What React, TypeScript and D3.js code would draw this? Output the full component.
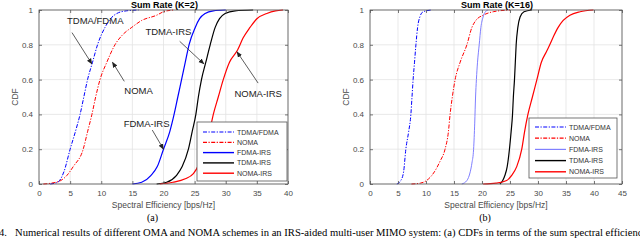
import React, { useEffect, useRef } from "react";
import * as d3 from "d3";

// ---- data: [spectral efficiency, CDF] ----
const k2TdmaFdma = [[1.8,0],[3,0.01],[4,0.07],[5,0.2],[6,0.32],[6.6,0.4],[7.2,0.5],[7.8,0.6],[8.6,0.7],[9.4,0.8],[10.6,0.9],[11.5,0.95],[12.5,0.98],[14,0.995],[16,1]];
const k2Noma = [[0.7,0],[2,0.005],[3.5,0.02],[4.5,0.05],[5.5,0.1],[7.1,0.2],[7.8,0.3],[8.5,0.4],[9.1,0.5],[9.8,0.6],[10.9,0.7],[12.2,0.8],[13.5,0.86],[14.9,0.9],[16.5,0.94],[18.9,0.97],[20,0.99],[21.6,1]];
const k2FdmaIrs = [[15,0],[16.5,0.01],[18,0.05],[19,0.1],[20,0.2],[21,0.3],[21.7,0.4],[22.3,0.5],[22.9,0.6],[23.5,0.7],[24.1,0.8],[25.1,0.9],[25.8,0.95],[26.7,0.98],[28,0.995],[30,1]];
const k2TdmaIrs = [[18.9,0],[20.5,0.01],[22.1,0.05],[23,0.1],[24,0.2],[24.6,0.3],[25.2,0.4],[25.6,0.5],[26.1,0.6],[26.8,0.7],[27.5,0.8],[28.3,0.9],[29,0.95],[29.9,0.98],[31.5,0.995],[34.4,1]];
const k2NomaIrs = [[19.4,0],[21.5,0.01],[23.5,0.03],[24.8,0.06],[25.8,0.12],[26.7,0.2],[27.4,0.3],[28,0.4],[28.8,0.5],[29.6,0.6],[30.6,0.7],[31.9,0.77],[32.8,0.84],[33.9,0.9],[35,0.95],[36.6,0.98],[38,0.995],[39.2,1]];

const k16TdmaFdma = [[4.8,0],[5.5,0.02],[6,0.07],[6.4,0.2],[6.9,0.3],[7.3,0.4],[7.5,0.5],[7.7,0.6],[7.95,0.7],[8.2,0.8],[8.5,0.9],[8.9,0.96],[9.5,0.99],[11,1]];
const k16Noma = [[7.4,0],[9,0.005],[10.1,0.02],[11.5,0.07],[12.5,0.13],[13.4,0.2],[14,0.3],[14.3,0.4],[14.7,0.5],[15.2,0.6],[16.1,0.7],[17.3,0.8],[18.2,0.9],[18.9,0.94],[20.2,0.97],[22,0.99],[25,1]];
const k16FdmaIrs = [[16.4,0],[17.3,0.02],[17.9,0.07],[18.2,0.12],[18.5,0.2],[18.7,0.35],[18.85,0.5],[19,0.6],[19.2,0.7],[19.5,0.8],[19.8,0.9],[20.2,0.96],[20.6,0.99],[21.1,1]];
const k16TdmaIrs = [[23.2,0],[23.7,0.02],[24.1,0.05],[24.5,0.1],[24.9,0.2],[25.2,0.3],[25.45,0.4],[25.6,0.5],[25.8,0.6],[25.95,0.7],[26.1,0.8],[26.4,0.9],[26.8,0.96],[27.5,0.99],[28.9,1]];
const k16NomaIrs = [[20.2,0],[22.5,0.005],[24.4,0.02],[25.3,0.05],[26.2,0.1],[27.1,0.2],[27.6,0.3],[28.2,0.4],[29,0.5],[29.8,0.6],[30.6,0.7],[31.5,0.76],[32.1,0.8],[32.8,0.85],[33.6,0.9],[34.5,0.94],[35.7,0.97],[37.5,0.99],[39.9,1]];

const legendNames = ["TDMA/FDMA", "NOMA", "FDMA-IRS", "TDMA-IRS", "NOMA-IRS"];
const yTicks = [0, 0.2, 0.4, 0.6, 0.8, 1];
const xTicksA = [0, 5, 10, 15, 20, 25, 30, 35, 40];
const xTicksB = [0, 5, 10, 15, 20, 25, 30, 35, 40, 45];

// annotations on panel (a): label, text position, arrow tail, arrow head (data coords)
const notesA = [
  { text: "TDMA/FDMA", at: [4.5, 0.92], from: [5.3, 0.87], to: [8.5, 0.69] },
  { text: "NOMA", at: [13.7, 0.52], from: [13.7, 0.59], to: [11.8, 0.7] },
  { text: "TDMA-IRS", at: [17.1, 0.855], from: [22.6, 0.82], to: [26.5, 0.69] },
  { text: "NOMA-IRS", at: [31.4, 0.5], from: [35.2, 0.58], to: [31.8, 0.76] },
  { text: "FDMA-IRS", at: [13.6, 0.325], from: [18.2, 0.31], to: [20, 0.2] },
];

const dashDot = "4,1.5,1.2,1.5";
const sans = "Liberation Sans, Arial, sans-serif";
const serif = "Liberation Serif, Times New Roman, serif";

function drawPanel(svg, opt) {
  const { left, right, top, bottom, xMax, xTicks, series, title, tag, legend, notes } = opt;
  const x = d3.scaleLinear().domain([0, xMax]).range([left, right]);
  const y = d3.scaleLinear().domain([0, 1]).range([bottom, top]);
  const g = svg.append("g");
  const axisColor = "#555";

  // grid
  g.selectAll(".gx").data(xTicks).join("line")
    .attr("x1", d => x(d)).attr("x2", d => x(d)).attr("y1", top).attr("y2", bottom)
    .attr("stroke", "#e3e3e3").attr("stroke-width", 0.8);
  g.selectAll(".gy").data(yTicks).join("line")
    .attr("y1", d => y(d)).attr("y2", d => y(d)).attr("x1", left).attr("x2", right)
    .attr("stroke", "#e3e3e3").attr("stroke-width", 0.8);

  // curves
  const line = d3.line().x(d => x(d[0])).y(d => y(d[1])).curve(d3.curveMonotoneX);
  series.forEach(s => {
    g.append("path").attr("d", line(s.data)).attr("fill", "none")
      .attr("stroke", s.color).attr("stroke-width", s.width)
      .attr("stroke-dasharray", s.dash || null);
  });

  // box + ticks
  g.append("rect").attr("x", left).attr("y", top).attr("width", right - left).attr("height", bottom - top)
    .attr("fill", "none").attr("stroke", axisColor).attr("stroke-width", 0.8);
  const axB = d3.axisBottom(x).tickValues(xTicks).tickSize(-3).tickPadding(6);
  const axL = d3.axisLeft(y).tickValues(yTicks).tickSize(-3).tickPadding(6).tickFormat(d => String(d));
  const axT = d3.axisTop(x).tickValues(xTicks).tickSize(-3).tickFormat(() => "");
  const axR = d3.axisRight(y).tickValues(yTicks).tickSize(-3).tickFormat(() => "");
  [[axB, `translate(0,${bottom})`], [axL, `translate(${left},0)`], [axT, `translate(0,${top})`], [axR, `translate(${right},0)`]]
    .forEach(([ax, tr]) => {
      const a = g.append("g").attr("transform", tr).call(ax);
      a.select(".domain").remove();
      a.selectAll("line").attr("stroke", axisColor).attr("stroke-width", 0.8);
      a.selectAll("text").attr("fill", "#4a4a4a").style("font-family", sans).style("font-size", "8px");
    });

  // labels
  const cx = (left + right) / 2;
  g.append("text").attr("x", cx + 1).attr("y", 8).attr("text-anchor", "middle")
    .style("font-family", sans).style("font-size", "9px").style("font-weight", "bold").text(title);
  g.append("text").attr("x", cx).attr("y", 208).attr("text-anchor", "middle").attr("fill", "#4a4a4a")
    .style("font-family", sans).style("font-size", "8.5px").text("Spectral Efficiency [bps/Hz]");
  g.append("text").attr("transform", `translate(${left - 21},${(top + bottom) / 2}) rotate(-90)`).attr("text-anchor", "middle")
    .attr("fill", "#4a4a4a").style("font-family", sans).style("font-size", "8.5px").text("CDF");
  g.append("text").attr("x", cx - 11).attr("y", 221).attr("text-anchor", "middle")
    .style("font-family", serif).style("font-size", "10px").text(tag);

  // legend
  const lg = g.append("g");
  lg.append("rect").attr("x", legend.x).attr("y", legend.y).attr("width", legend.w).attr("height", legend.h)
    .attr("fill", "#fff").attr("stroke", "#555").attr("stroke-width", 0.8);
  series.forEach((s, i) => {
    const yy = legend.y + legend.first + i * legend.step;
    lg.append("line").attr("x1", legend.x + 6).attr("x2", legend.x + 37).attr("y1", yy).attr("y2", yy)
      .attr("stroke", s.color).attr("stroke-width", s.width + 0.2).attr("stroke-dasharray", s.dash || null);
    lg.append("text").attr("x", legend.x + 40).attr("y", yy + 2.5).attr("fill", "#333")
      .style("font-family", sans).style("font-size", "7px").text(legendNames[i]);
  });

  // annotations
  (notes || []).forEach(n => {
    g.append("text").attr("x", x(n.at[0])).attr("y", y(n.at[1])).attr("fill", "#222")
      .style("font-family", sans).style("font-size", "9.5px").text(n.text);
    g.append("line").attr("x1", x(n.from[0])).attr("y1", y(n.from[1])).attr("x2", x(n.to[0])).attr("y2", y(n.to[1]))
      .attr("stroke", "#333").attr("stroke-width", 0.8).attr("marker-end", "url(#arrowHead)");
  });
}

export default function App() {
  const ref = useRef(null);
  useEffect(() => {
    const svg = d3.select(ref.current);
    svg.selectAll("*").remove();
    svg.append("rect").attr("width", 640).attr("height", 240).attr("fill", "#fff");
    svg.append("defs").append("marker").attr("id", "arrowHead").attr("viewBox", "0 0 10 10")
      .attr("refX", 9).attr("refY", 5).attr("markerWidth", 6).attr("markerHeight", 6).attr("orient", "auto")
      .attr("markerUnits", "userSpaceOnUse")
      .append("path").attr("d", "M0,1 L10,5 L0,9 Z").attr("fill", "#222");

    drawPanel(svg, {
      left: 39, right: 288, top: 10, bottom: 184, xMax: 40, xTicks: xTicksA,
      title: "Sum Rate (K=2)", tag: "(a)",
      legend: { x: 197, y: 122, w: 90, h: 59, first: 10, step: 10.3 },
      notes: notesA,
      series: [
        { data: k2TdmaFdma, color: "#0000ff", width: 1, dash: dashDot },
        { data: k2Noma, color: "#ff0000", width: 1, dash: dashDot },
        { data: k2FdmaIrs, color: "#0000ff", width: 1.2 },
        { data: k2TdmaIrs, color: "#000000", width: 1.2 },
        { data: k2NomaIrs, color: "#ff0000", width: 1.2 },
      ],
    });
    drawPanel(svg, {
      left: 370, right: 622, top: 10, bottom: 184, xMax: 45, xTicks: xTicksB,
      title: "Sum Rate (K=16)", tag: "(b)",
      legend: { x: 529, y: 118, w: 88, h: 60, first: 9, step: 11.2 },
      series: [
        { data: k16TdmaFdma, color: "#0000ff", width: 1, dash: dashDot },
        { data: k16Noma, color: "#ff0000", width: 1, dash: dashDot },
        { data: k16FdmaIrs, color: "#8080ff", width: 1 },
        { data: k16TdmaIrs, color: "#000000", width: 1.2 },
        { data: k16NomaIrs, color: "#ff0000", width: 1.2 },
      ],
    });

    const cap = svg.append("text").attr("y", 236).style("font-family", serif).style("font-size", "10.6px");
    cap.append("tspan").attr("x", -1).text("4.");
    cap.append("tspan").attr("x", 15)
      .text("Numerical results of different OMA and NOMA schemes in an IRS-aided multi-user MIMO system: (a) CDFs in terms of the sum spectral efficiency");
  }, []);
  return (
    <div style={{ position: "absolute", left: 0, top: 0 }}>
      <svg ref={ref} width={640} height={240} style={{ display: "block" }} />
    </div>
  );
}
